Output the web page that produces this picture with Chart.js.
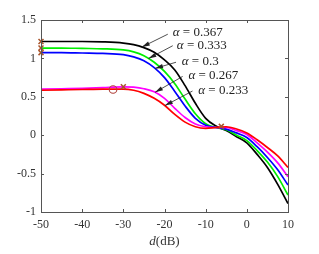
<!DOCTYPE html>
<html>
<head>
<meta charset="utf-8">
<script src="https://cdn.jsdelivr.net/npm/chart.js@4/dist/chart.umd.min.js"></script>
<style>
  html, body { margin: 0; padding: 0; background: #fff; }
</style>
</head>
<body>
<canvas id="graphCanvas" width="319" height="254"></canvas>
<script>
// ================================
// Data
// ================================
const dB = [-50, -45, -40, -35, -30, -27.5, -25, -22.5, -20, -17.5, -15, -12.5, -10, -7.5, -5, -2.5, 0, 2.5, 5, 7.5, 10];

const alpha367 = [1.22, 1.22, 1.22, 1.215, 1.20, 1.18, 1.14, 1.08, 0.98, 0.85, 0.645, 0.415, 0.22, 0.12, 0.06, -0.02, -0.10, -0.25, -0.42, -0.64, -0.89];
const alpha333 = [1.135, 1.135, 1.13, 1.125, 1.11, 1.085, 1.035, 0.95, 0.83, 0.67, 0.47, 0.28, 0.15, 0.10, 0.07, 0.00, -0.07, -0.20, -0.35, -0.54, -0.78];
const alpha300 = [1.075, 1.075, 1.07, 1.065, 1.05, 1.02, 0.97, 0.88, 0.75, 0.57, 0.38, 0.22, 0.13, 0.10, 0.08, 0.03, -0.03, -0.15, -0.29, -0.45, -0.65];
const alpha267 = [0.60, 0.605, 0.61, 0.62, 0.63, 0.625, 0.605, 0.565, 0.48, 0.35, 0.23, 0.145, 0.11, 0.10, 0.10, 0.06, 0.01, -0.10, -0.22, -0.36, -0.54];
const alpha233 = [0.585, 0.59, 0.595, 0.60, 0.60, 0.585, 0.545, 0.48, 0.39, 0.27, 0.17, 0.11, 0.09, 0.10, 0.11, 0.08, 0.03, -0.06, -0.16, -0.27, -0.42];

const seriesLabels = ['α = 0.367', 'α = 0.333', 'α = 0.3', 'α = 0.267', 'α = 0.233'];
const seriesValues = [alpha367, alpha333, alpha300, alpha267, alpha233];
const seriesColors = ['#000000', '#00ee00', '#0000ff', '#ff00ff', '#ff0000'];

// special points
const crossX = [-50, -50, -50, -30, -6.2];
const crossY = [1.22, 1.135, 1.075, 0.63, 0.115];
const circleX = [-32.5];
const circleY = [0.595];

const xTicks = [-50, -40, -30, -20, -10, 0, 10];
const yTicks = [-1, -0.5, 0, 0.5, 1, 1.5];

// label placement (data coords): text left edge / middle, arrow tail, arrow tip x on curve
const labelPos = [
  { tx: -18.0, ty: 1.33, ax: -19.2, ay: 1.315, tipX: -25.5 },
  { tx: -17.0, ty: 1.17, ax: -18.0, ay: 1.165, tipX: -23.9 },
  { tx: -15.8, ty: 0.955, ax: -17.2, ay: 0.95, tipX: -22.3 },
  { tx: -14.2, ty: 0.77, ax: -15.6, ay: 0.765, tipX: -22.3 },
  { tx: -11.8, ty: 0.58, ax: -13.2, ay: 0.575, tipX: -19.9 }
];

const serif = "'Liberation Serif', 'DejaVu Serif', serif";

function toPoints(xs, ys) {
  return xs.map((x, i) => ({ x: x, y: ys[i] }));
}

function valueAt(xs, ys, x) {
  for (let i = 0; i < xs.length - 1; i++) {
    if (x >= xs[i] && x <= xs[i + 1]) {
      const t = (x - xs[i]) / (xs[i + 1] - xs[i]);
      return ys[i] + t * (ys[i + 1] - ys[i]);
    }
  }
  return ys[ys.length - 1];
}

// Frame, inward ticks, labels with arrows, x title
const decorPlugin = {
  id: 'decor',
  afterDraw(chart) {
    const ctx = chart.ctx;
    const a = chart.chartArea;
    const xs = chart.scales.x, ys = chart.scales.y;
    ctx.save();
    ctx.strokeStyle = '#555';
    ctx.lineWidth = 1;
    ctx.strokeRect(a.left + 0.5, a.top + 0.5, a.right - a.left, a.bottom - a.top);
    ctx.beginPath();
    xTicks.forEach(v => {
      const px = Math.round(xs.getPixelForValue(v)) + 0.5;
      ctx.moveTo(px, a.bottom); ctx.lineTo(px, a.bottom - 3);
      ctx.moveTo(px, a.top); ctx.lineTo(px, a.top + 3);
    });
    yTicks.forEach(v => {
      const py = Math.round(ys.getPixelForValue(v)) + 0.5;
      ctx.moveTo(a.left, py); ctx.lineTo(a.left + 3, py);
      ctx.moveTo(a.right, py); ctx.lineTo(a.right - 3, py);
    });
    ctx.stroke();

    // labels + arrows
    ctx.fillStyle = '#222';
    ctx.strokeStyle = '#222';
    ctx.textBaseline = 'middle';
    seriesLabels.forEach((lab, i) => {
      const p = labelPos[i];
      const tx = xs.getPixelForValue(p.tx), ty = ys.getPixelForValue(p.ty);
      ctx.font = 'italic 13px ' + serif;
      ctx.fillText('α', tx, ty);
      const w = ctx.measureText('α').width;
      ctx.font = '13px ' + serif;
      ctx.fillText(lab.slice(1), tx + w, ty);

      const x0 = xs.getPixelForValue(p.ax), y0 = ys.getPixelForValue(p.ay);
      const x1 = xs.getPixelForValue(p.tipX);
      const y1 = ys.getPixelForValue(valueAt(dB, seriesValues[i], p.tipX));
      const ang = Math.atan2(y1 - y0, x1 - x0);
      ctx.lineWidth = 0.8;
      ctx.beginPath();
      ctx.moveTo(x0, y0);
      ctx.lineTo(x1, y1);
      ctx.stroke();
      const L = 8, W = 2.2;
      ctx.beginPath();
      ctx.moveTo(x1, y1);
      ctx.lineTo(x1 - L * Math.cos(ang) - W * Math.sin(ang), y1 - L * Math.sin(ang) + W * Math.cos(ang));
      ctx.lineTo(x1 - L * Math.cos(ang) + W * Math.sin(ang), y1 - L * Math.sin(ang) - W * Math.cos(ang));
      ctx.closePath();
      ctx.fill();
    });

    // x axis title: d(dB)
    const cx = (a.left + a.right) / 2;
    ctx.fillStyle = '#333';
    ctx.font = 'italic 13px ' + serif;
    const wd = ctx.measureText('d').width;
    ctx.font = '13px ' + serif;
    const wr = ctx.measureText('(dB)').width;
    const start = cx - (wd + wr) / 2;
    ctx.font = 'italic 13px ' + serif;
    ctx.fillText('d', start, 242);
    ctx.font = '13px ' + serif;
    ctx.fillText('(dB)', start + wd, 242);
    ctx.restore();
  }
};

const datasets = [
  {
    type: 'scatter', data: toPoints(crossX, crossY), pointStyle: 'crossRot', pointRadius: 3.5,
    borderColor: '#a8532a', borderWidth: 1.5, backgroundColor: 'transparent', order: 0, clip: false
  },
  {
    type: 'scatter', data: toPoints(circleX, circleY), pointStyle: 'circle', pointRadius: 3.8,
    borderColor: '#b0403a', borderWidth: 1.1, backgroundColor: 'transparent', order: 0, clip: false
  }
];
seriesValues.forEach((vals, i) => {
  datasets.push({
    type: 'line', label: seriesLabels[i], data: toPoints(dB, vals),
    borderColor: seriesColors[i], borderWidth: 1.7, pointRadius: 0,
    cubicInterpolationMode: 'monotone', fill: false, order: 5 - i
  });
});

const canvas = document.getElementById('graphCanvas');
new Chart(canvas.getContext('2d'), {
  data: { datasets: datasets },
  options: {
    responsive: false,
    animation: false,
    devicePixelRatio: 1,
    layout: { padding: { top: 20, right: 31, left: 0, bottom: 0 } },
    plugins: { legend: { display: false }, tooltip: { enabled: false } },
    scales: {
      x: {
        type: 'linear', min: -50, max: 10,
        grid: { display: false, drawTicks: false }, border: { display: false },
        ticks: { stepSize: 10, padding: 6, color: '#333', font: { family: serif, size: 12 } },
        afterFit(s) { s.height = 42; }
      },
      y: {
        type: 'linear', min: -1, max: 1.5,
        grid: { display: false, drawTicks: false }, border: { display: false },
        ticks: {
          stepSize: 0.5, padding: 5, color: '#333', font: { family: serif, size: 12 },
          callback: v => String(v)
        },
        afterFit(s) { s.width = 41; }
      }
    }
  },
  plugins: [decorPlugin]
});
</script>
</body>
</html>
